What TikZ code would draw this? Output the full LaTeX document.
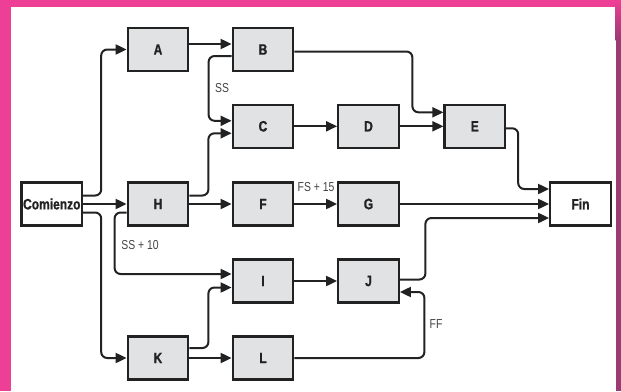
\documentclass[tikz,border=0pt]{standalone}
\usepackage{fontspec}
\usetikzlibrary{arrows.meta,calc}
\newfontfamily\boxfont{Liberation Sans}[FakeStretch=0.8,FakeBold=1]
\newfontfamily\lagfont{Liberation Sans}[FakeStretch=0.8]
\definecolor{framepink}{HTML}{EC3F95}
\definecolor{framepurple}{HTML}{9C3A72}
\definecolor{boxgray}{HTML}{E1E2E4}
\definecolor{ink}{HTML}{222222}
\definecolor{lagink}{HTML}{444444}
\begin{document}
\begin{tikzpicture}[x=1pt,y=-1pt,
  task/.style={draw=ink,line width=2.3pt,fill=boxgray,minimum width=60.5pt,
    minimum height=43pt,inner sep=0pt,font=\boxfont\bfseries\fontsize{15}{17}\selectfont,text=ink},
  endpoint/.style={task,fill=white},
  link/.style={draw=ink,line width=2pt,rounded corners=6pt,
    -{Triangle[length=11pt,width=10pt]}},
  lag/.style={inner sep=0pt,font=\lagfont\fontsize{13}{15}\selectfont,text=lagink}]
% frame
\useasboundingbox (0,0) rectangle (621,391);
\fill[framepink] (0,0) rectangle (621,391);
\fill[white] (10.7,6.7) rectangle (615.7,391);
\shade[top color=framepink,bottom color=framepurple] (615.7,0) rectangle (621,40);
\fill[framepurple] (615.7,40) rectangle (621,391);
% activities
\node[endpoint] (Com) at (51.8,204) {Comienzo};
\node[task] (A) at (158,49.5) {A};
\node[task] (B) at (263,49.5) {B};
\node[task] (C) at (263,126.3) {C};
\node[task] (D) at (368.5,126.3) {D};
\node[task] (E) at (474.8,126.3) {E};
\node[task] (H) at (158,204) {H};
\node[task] (F) at (263,204) {F};
\node[task] (G) at (368.5,204) {G};
\node[endpoint] (Fin) at (580.5,204) {Fin};
\node[task] (I) at (263,281) {I};
\node[task] (J) at (368.5,281) {J};
\node[task] (K) at (158,358) {K};
\node[task] (L) at (263,358) {L};
% dependencies
\draw[link] ([yshift=8.5pt]Com.east) -- ++(18,0) |- (A.west);
\draw[link] (Com.east) -- (H.west);
\draw[link] ([yshift=-8.5pt]Com.east) -- ++(18,0) |- (K.west);
\draw[link] ([yshift=5.5pt]A.east) -- ([yshift=5.5pt]B.west);
\draw[link] ([yshift=-2pt]B.east) -- ++(118,0) |- ([yshift=14pt]E.west);
\draw[link] ([yshift=-6.5pt]B.west) -- ++(-23,0) |- ([yshift=5.5pt]C.west);
\draw[link] ([yshift=8.5pt]H.east) -- ++(19,0) |- ([yshift=-7pt]C.west);
\draw[link] (C.east) -- (D.west);
\draw[link] (D.east) -- (E.west);
\draw[link] ([yshift=-2pt]E.east) -- ++(12,0) |- ([yshift=15pt]Fin.west);
\draw[link] (H.east) -- (F.west);
\draw[link] (F.east) -- (G.west);
\draw[link] (G.east) -- (Fin.west);
\draw[link] ([yshift=-8.5pt]H.west) -- ++(-12,0) |- ([yshift=7pt]I.west);
\draw[link] ([yshift=10pt]K.east) -- ++(19,0) |- ([yshift=-6.5pt]I.west);
\draw[link] (I.east) -- (J.west);
\draw[link] ([yshift=1.5pt]J.east) -- ++(25.5,0) |- ([yshift=-14pt]Fin.west);
\draw[link] (K.east) -- (L.west);
\draw[link] (L.east) -- ++(130,0) |- ([yshift=-11pt]J.east);
% lag labels
\node[lag] (ss) at (222,88.5) {SS};
\node[lag] (ss10) at (140,245) {SS + 10};
\node[lag] (fs15) at (316,187.5) {FS + 15};
\node[lag] (ff) at (436,324) {FF};
\end{tikzpicture}
\end{document}
